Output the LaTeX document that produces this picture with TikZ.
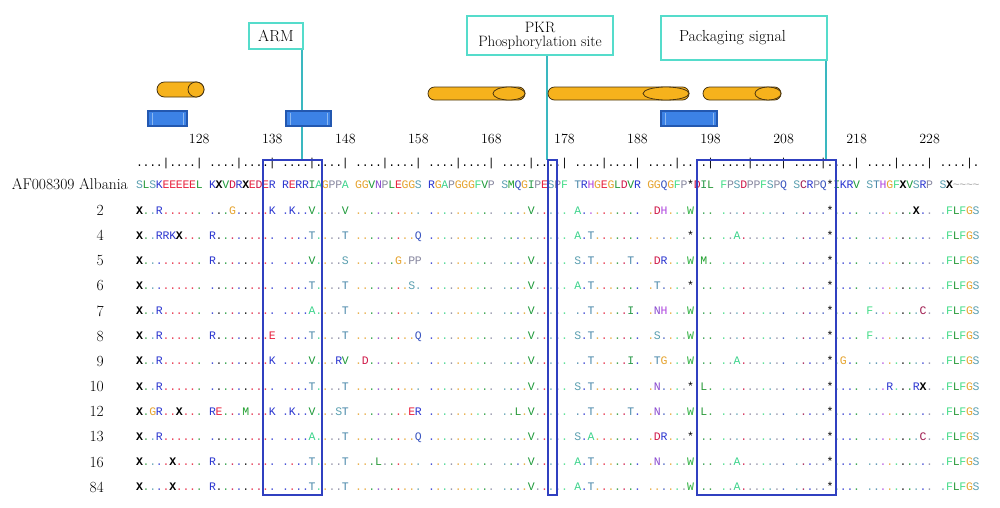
\documentclass[tikz,border=0pt]{standalone}
\usepackage{fontspec}
\newfontfamily\seqfont{Liberation Mono}
\definecolor{cS}{HTML}{5A9FB0}
\definecolor{cT}{HTML}{4A88AA}
\definecolor{cA}{HTML}{3CD48C}
\definecolor{cF}{HTML}{44DD88}
\definecolor{cV}{HTML}{1E9A3A}
\definecolor{cL}{HTML}{2A9A3A}
\definecolor{cI}{HTML}{2A9A4A}
\definecolor{cM}{HTML}{22A030}
\definecolor{cW}{HTML}{2EB040}
\definecolor{cN}{HTML}{8A4AD0}
\definecolor{cH}{HTML}{B048E0}
\definecolor{cD}{HTML}{D01848}
\definecolor{cE}{HTML}{E8203C}
\definecolor{cK}{HTML}{2A35D0}
\definecolor{cR}{HTML}{2A35D0}
\definecolor{cQ}{HTML}{3A55C0}
\definecolor{cG}{HTML}{E6A532}
\definecolor{cP}{HTML}{8888A0}
\definecolor{cC}{HTML}{A01C50}
\definecolor{cX}{HTML}{000000}
\definecolor{cZ}{HTML}{A8A8A8}
\definecolor{tealbd}{HTML}{55DCCB}
\definecolor{tealln}{HTML}{3AB8C0}
\definecolor{framec}{HTML}{3040C0}
\definecolor{helixf}{HTML}{F6B21C}
\definecolor{helixd}{HTML}{4A3510}
\definecolor{strandf}{HTML}{3C82E6}
\definecolor{strandd}{HTML}{2358B0}
\definecolor{strandl}{HTML}{8CB8F0}

\newcount\pcnt
\def\rowy{0}
\def\rowid{r}
\def\putch#1#2{%
  \edef\colidx{\the\numexpr\pcnt+(\pcnt+5)/10-1\relax}%
  \node[seqch,text=#1] (\rowid-\the\pcnt) at ({139.5+6.64*\colidx},\rowy) {#2};}
\def\refparse#1{\ifx#1\relax\else
  \ifx#1*\expandafter\gdef\csname rc\the\pcnt\endcsname{black}\putch{black}{*}%
  \else\ifx#1Z\expandafter\gdef\csname rc\the\pcnt\endcsname{cZ}\putch{cZ}{\textasciitilde}%
  \else\expandafter\gdef\csname rc\the\pcnt\endcsname{c#1}\putch{c#1}{\ifx#1X\bfseries\fi#1}%
  \fi\fi
  \global\advance\pcnt by 1
  \expandafter\refparse\fi}
\def\rowparse#1{\ifx#1\relax\else
  \ifx#1.\edef\curc{\csname rc\the\pcnt\endcsname}\putch{\curc!85}{.}%
  \else\ifx#1*\putch{black}{*}%
  \else\putch{c#1}{\ifx#1X\bfseries\fi#1}%
  \fi\fi
  \global\advance\pcnt by 1
  \expandafter\rowparse\fi}
\def\refrow#1#2#3{\def\rowy{#1}\def\rowid{#2}\global\pcnt=0 \refparse#3\relax}
\def\seqrow#1#2#3{\def\rowy{#1}\def\rowid{#2}\global\pcnt=0 \rowparse#3\relax}

\begin{document}
\begin{tikzpicture}[x=1pt,y=-1pt,
  seqch/.style={font=\seqfont\fontsize{11.5}{12}\selectfont, anchor=base, inner sep=0pt, outer sep=0pt},
  rulech/.style={font=\seqfont\fontsize{11.5}{12}\selectfont, anchor=base, inner sep=0pt},
  rowlab/.style={font=\fontsize{15.5}{17}\selectfont, inner sep=0pt},
  numlab/.style={font=\fontsize{14}{15}\selectfont, inner sep=0pt, anchor=base},
  tealbox/.style={draw=tealbd, line width=2.8pt, fill=white, inner sep=0pt, font=\fontsize{16}{15}\selectfont, align=center},
  tealline/.style={draw=tealln, line width=1.4pt},
  frame/.style={draw=framec, line width=1.2pt},
  helixst/.style={fill=helixf, draw=helixd, line width=0.8pt},
  strandst/.style={fill=strandf, draw=strandd, line width=1.2pt},
  strandin/.style={draw=strandl, line width=0.8pt}]
\useasboundingbox (0,0) rectangle (1000,507);
\fill[white] (0,0) rectangle (1000,507);

% annotation boxes
\node[tealbox, minimum width=54pt, minimum height=26pt] (arm) at (276,36) {ARM};
\node[tealbox, minimum width=146pt, minimum height=39pt, font=\fontsize{15}{14}\selectfont] (pkr) at (540,35.5) {PKR\\Phosphorylation site};
\node[tealbox, minimum width=166pt, minimum height=44pt, text width=150pt, align=left] (pack) at (744,38) {\hspace*{10pt}Packaging signal};
\coordinate (armend) at (302,160);
\coordinate (pkrend) at (547,160);
\coordinate (packend) at (826,160);
\draw[tealline] (arm.south -| armend) -- (armend);
\draw[tealline] (pkr.south -| pkrend) -- (pkrend);
\draw[tealline] (pack.south -| packend) -- (packend);

% helices
\draw[helixst, rounded corners=7.5pt] (157,82) rectangle (204,97);
\draw[helixst] (196,89.5) ellipse [x radius=8, y radius=7.5];
\draw[helixst, rounded corners=6.5pt] (428,87) rectangle (525,100);
\draw[helixst] (509,93.5) ellipse [x radius=16, y radius=6.5];
\draw[helixst, rounded corners=6.5pt] (548,87) rectangle (689,100);
\draw[helixst] (666,93.5) ellipse [x radius=23, y radius=6.5];
\draw[helixst, rounded corners=6.5pt] (703,87) rectangle (781,100);
\draw[helixst] (768,93.5) ellipse [x radius=13, y radius=6.5];

% strands
\draw[strandst] (148,111) rectangle (187,126);
\draw[strandin] (152,112.5) -- (152,124.5) (183,112.5) -- (183,124.5);
\draw[strandst] (286,111) rectangle (331,126);
\draw[strandin] (290,112.5) -- (290,124.5) (327,112.5) -- (327,124.5);
\draw[strandst] (661,111) rectangle (717,126);
\draw[strandin] (665,112.5) -- (665,124.5) (713,112.5) -- (713,124.5);

% position numbers
\foreach \k in {0,...,10}{
  \pgfmathtruncatemacro\pos{128+10*\k}
  \node[numlab] (num\k) at ({139.5+6.64*(11*\k+9)},143) {\pos};
}

% ruler
\foreach \i in {0,...,115}{
  \pgfmathtruncatemacro\m{mod(\i+1,5)}
  \pgfmathtruncatemacro\cc{\i+floor(\i/10)}
  \ifnum\m=0
    \node[rulech] (ru\i) at ({139.5+6.64*\cc},166) {|};
  \else
    \node[rulech] (ru\i) at ({139.5+6.64*\cc},166) {.};
  \fi
}

% row labels
\node[rowlab, anchor=base east] (labref) at (128,189.5) {AF008309 Albania};
\foreach \lab [count=\k from 0] in {2,4,5,6,7,8,9,10,12,13,16,84}
  \node[rowlab, anchor=base east] (lab\lab) at (104,{215.5+25.15*\k}) {\lab};

% sequences
\refrow{188}{ref}{SLSKEEEEEL KXVDRXEDER RERRIAGPPA GGVNPLEGGS RGAPGGGFVP SMQGIPESPF TRHGEGLDVR GGQGFP*DIL FPSDPPFSPQ SCRPQ*IKRV STHGFXVSRP SXZZZZ}
\seqrow{214}{s2}{X..R...... ...G.....K .K..V....V .......... .......... ....V..... A......... .DH...W... .......... .....*.... .......X.. .FLFGS}
\seqrow{239.15}{s4}{X..RRKX... R......... ....T....T .........Q .......... .......... A.T....... ......*... ..A....... .....*.... .......... .FLFGS}
\seqrow{264.3}{s5}{X......... R......... ....V....S ......G.PP .......... ....V..... S.T.....T. .DR...W.M. .......... .....*.... .......... .FLFGS}
\seqrow{289.45}{s6}{X......... .......... ....T....T ........S. .......... ....V..... A.T....... .T....*... .......... .....*.... .......... .FLFGS}
\seqrow{314.6}{s7}{X..R...... .......... ....A....T .......... .......... ....V..... ..T.....I. .NH...W... .......... .....*.... F.......C. .FLFGS}
\seqrow{339.75}{s8}{X..R...... R........E ....T....T .........Q .......... ....V..... S.T....... .S....W... .......... .....*.... F......... .FLFGS}
\seqrow{364.9}{s9}{X..R...... .........K ....V...RV .D........ .......... ....V..... ..T.....I. .TG...W... ..A....... .....*.G.. .......... .FLFGS}
\seqrow{390.05}{s10}{X..R...... .......... ....T....T .......... .......... ....V..... S.T....... .N....*.L. .......... .....*.... ...R...RX. .FLFGS}
\seqrow{415.2}{s12}{X.GR..X... RE...M...K .K..V...ST ........ER .......... ..L.V..... ..T.....T. .N....W.L. .......... .....*.... .......... .FLFGS}
\seqrow{440.35}{s13}{X..R...... .......... ....A....T .........Q .......... ....V..... S.A....... .DR...*... .......... .....*.... ........C. .FLFGS}
\seqrow{465.5}{s16}{X....X.... R......... ....T....T ...L...... .......... ....V..... A.T....... .N....W... ..A....... .....*.... .......... .FLFGS}
\seqrow{490.65}{s84}{X....X.... R......... ....T....T .......... .......... ....V..... A.T....... ......W... ..A....... .....*.... .......... .FLFGS}

% frames
\draw[frame] (263,160) rectangle (322,495);
\draw[frame] (548,160) rectangle (557,495);
\draw[frame] (697,160) rectangle (836,495);
\end{tikzpicture}
\end{document}
